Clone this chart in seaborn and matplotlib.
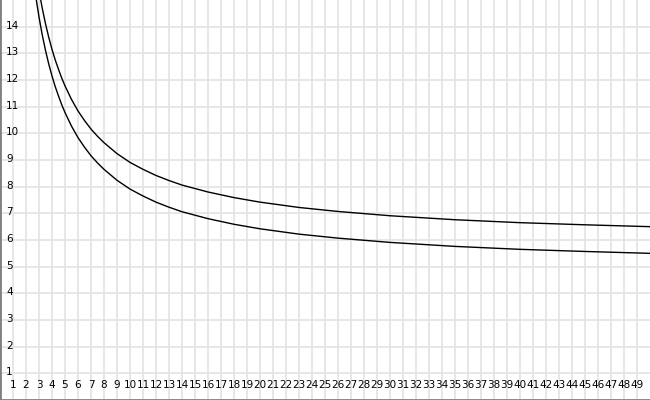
import matplotlib
matplotlib.use("Agg")
import matplotlib.pyplot as plt
import seaborn as sns
import pandas as pd

# values
upper_x = [3.0, 3.25, 3.5, 3.75, 4.0, 4.25, 4.5, 4.75, 5.0, 5.5, 6.0, 6.5, 7.0, 7.5, 8, 9, 10, 11, 12, 13, 14, 16, 18, 20, 23, 26, 30, 35, 40, 45, 50]
upper_y = [15.36, 14.69, 14.11, 13.60, 13.15, 12.75, 12.40, 12.07, 11.78, 11.27, 10.84, 10.48, 10.16, 9.89, 9.65, 9.24, 8.91, 8.65, 8.42, 8.23, 8.06, 7.80, 7.59, 7.42, 7.22, 7.07, 6.91, 6.76, 6.65, 6.57, 6.50]

lower_x = [2.75, 3.0, 3.25, 3.5, 3.75, 4.0, 4.25, 4.5, 4.75, 5.0, 5.5, 6.0, 6.5, 7.0, 7.5, 8, 9, 10, 11, 12, 13, 14, 16, 18, 20, 23, 26, 30, 35, 40, 45, 50]
lower_y = [15.14, 14.36, 13.69, 13.11, 12.60, 12.15, 11.75, 11.40, 11.07, 10.78, 10.27, 9.84, 9.48, 9.16, 8.89, 8.65, 8.24, 7.91, 7.65, 7.42, 7.23, 7.06, 6.80, 6.59, 6.42, 6.22, 6.07, 5.91, 5.76, 5.65, 5.57, 5.50]

x_ticks = list(range(1, 50))
y_ticks = list(range(1, 15))

df = pd.concat([
    pd.DataFrame({"x": upper_x, "y": upper_y, "s": "upper"}),
    pd.DataFrame({"x": lower_x, "y": lower_y, "s": "lower"}),
])

sns.set_style("white")
fig = plt.figure(figsize=(6.5, 4), dpi=100)
ax = fig.add_axes([0, 0, 1, 1])

sns.lineplot(data=df, x="x", y="y", units="s", estimator=None, sort=False,
             color="black", linewidth=1.0, ax=ax, legend=False)

ax.set_xlim(0, 50)
ax.set_ylim(0, 15)
ax.set_xticks(x_ticks)
ax.set_yticks(y_ticks)
ax.grid(True, color="#e3e3e3", linewidth=1.2)
ax.set_axisbelow(True)
ax.tick_params(length=0, labelbottom=False, labelleft=False)
ax.set_xlabel("")
ax.set_ylabel("")

for side in ["top", "right"]:
    ax.spines[side].set_visible(False)
for side in ["left", "bottom"]:
    ax.spines[side].set_visible(True)
    ax.spines[side].set_color("#808080")
    ax.spines[side].set_linewidth(2.0)

for k in x_ticks:
    ax.text(k, 0.56, str(k), ha="center", va="center", fontsize=7.5, color="black")
for k in y_ticks:
    ax.text(0.47, k + 0.04, str(k), ha="left", va="center", fontsize=7.5, color="black")

fig.savefig("out.png", dpi=100)
